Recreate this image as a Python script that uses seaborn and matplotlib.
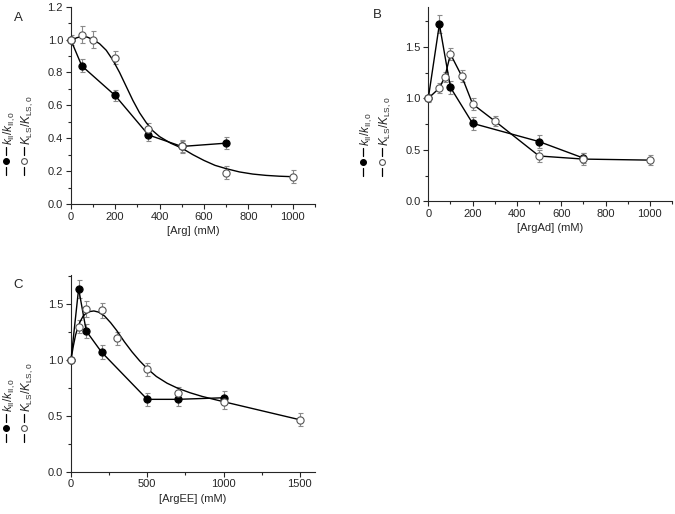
import numpy as np
import pandas as pd
import matplotlib
matplotlib.use("Agg")
import matplotlib.pyplot as plt
import seaborn as sns
from matplotlib.lines import Line2D
from matplotlib.ticker import MultipleLocator, FormatStrFormatter

# ---- Panel A: Arg ----
a_kii_x = [0, 50, 200, 350, 500, 700]
a_kii_y = [1.0, 0.84, 0.66, 0.42, 0.35, 0.37]
a_kii_err = [0.0, 0.04, 0.035, 0.035, 0.035, 0.035]
a_kls_x = [0, 50, 100, 200, 350, 500, 700, 1000]
a_kls_y = [1.0, 1.03, 1.0, 0.89, 0.455, 0.35, 0.19, 0.165]
a_kls_err = [0.03, 0.05, 0.05, 0.04, 0.04, 0.04, 0.04, 0.04]
# fitted curve
a_fit_x = [0, 25, 50, 75, 100, 130, 160, 190, 220, 250, 280, 310, 340, 370, 400, 450,
           500, 550, 600, 650, 700, 760, 820, 880, 940, 1000]
a_fit_y = [0.99, 1.01, 1.02, 1.015, 1.0, 0.975, 0.935, 0.875, 0.80, 0.715, 0.63, 0.555,
           0.495, 0.445, 0.41, 0.37, 0.34, 0.30, 0.265, 0.235, 0.215, 0.195, 0.182,
           0.174, 0.169, 0.166]

# ---- Panel B: ArgAd ----
b_kii_x = [0, 50, 100, 200, 500, 700]
b_kii_y = [1.0, 1.72, 1.106, 0.757, 0.58, 0.42]
b_kii_err = [0.0, 0.09, 0.06, 0.06, 0.06, 0.05]
b_kls_x = [0, 50, 75, 100, 150, 200, 300, 500, 700, 1000]
b_kls_y = [1.0, 1.10, 1.21, 1.43, 1.22, 0.945, 0.78, 0.44, 0.41, 0.40]
b_kls_err = [0.04, 0.05, 0.05, 0.06, 0.06, 0.06, 0.05, 0.06, 0.06, 0.05]

# ---- Panel C: ArgEE ----
c_kii_x = [0, 50, 100, 200, 500, 700, 1000]
c_kii_y = [1.0, 1.634, 1.256, 1.068, 0.646, 0.646, 0.66]
c_kii_err = [0.0, 0.08, 0.06, 0.06, 0.06, 0.06, 0.06]
c_kls_x = [0, 50, 100, 200, 300, 500, 700, 1000, 1500]
c_kls_y = [1.0, 1.295, 1.45, 1.44, 1.19, 0.914, 0.70, 0.62, 0.464]
c_kls_err = [0.0, 0.06, 0.07, 0.07, 0.06, 0.06, 0.06, 0.06, 0.06]
c_fit_x = [0, 15, 30, 45, 60, 80, 100, 125, 150, 180, 220, 260, 300, 350, 400, 450,
           500, 560, 630, 700, 780, 860, 940, 1000, 1500]
c_fit_y = [1.0, 1.12, 1.22, 1.29, 1.34, 1.39, 1.415, 1.43, 1.435, 1.425, 1.39, 1.33,
           1.26, 1.16, 1.07, 0.99, 0.92, 0.85, 0.79, 0.745, 0.705, 0.672, 0.645,
           0.625, 0.464]

sns.set_theme(style="ticks")
plt.rcParams['font.family'] = ['Liberation Sans', 'DejaVu Sans']
plt.rcParams['mathtext.fontset'] = 'custom'
plt.rcParams['mathtext.rm'] = 'Liberation Sans'
plt.rcParams['mathtext.it'] = 'Liberation Sans:italic'

fig = plt.figure(figsize=(6.75, 5.14), dpi=100)
W, H = 675, 514
MS = 5.2


def px_axes(l, t, r, b):
    return fig.add_axes([l / W, 1 - b / H, (r - l) / W, (b - t) / H])


def draw_panel(ax, kx, ky, ke, sx, sy, se, fx=None, fy=None):
    for xs, ys, es in ((kx, ky, ke), (sx, sy, se)):
        ax.errorbar(xs, ys, yerr=es, fmt='none', ecolor='#8a8a8a', elinewidth=0.8,
                    capsize=1.8, capthick=0.8, zorder=1)
    sns.lineplot(x=kx, y=ky, ax=ax, color='black', linewidth=1.0, marker='o',
                 markersize=MS, markerfacecolor='black', markeredgecolor='black',
                 clip_on=False, zorder=3)
    if fx is not None:
        sns.lineplot(x=fx, y=fy, ax=ax, color='black', linewidth=1.0, zorder=2)
        ax.plot(sx, sy, linestyle='none', marker='o', markersize=MS,
                markerfacecolor='white', markeredgecolor='#555555',
                markeredgewidth=0.8, clip_on=False, zorder=4)
    else:
        sns.lineplot(x=sx, y=sy, ax=ax, color='black', linewidth=1.0, marker='o',
                     markersize=MS, markerfacecolor='white',
                     markeredgecolor='#555555', markeredgewidth=0.8,
                     clip_on=False, zorder=4)
    sns.despine(ax=ax)
    for s in ('left', 'bottom'):
        ax.spines[s].set_linewidth(0.8)
    ax.tick_params(which='major', length=3.5, width=0.8, labelsize=8, pad=2)
    ax.tick_params(which='minor', length=2, width=0.8)
    ax.yaxis.set_major_formatter(FormatStrFormatter('%.1f'))
    ax.set_ylabel('')


def side_labels(x1, x2, ybot):
    # legend-style y labels: dash, marker, dash, then the ratio text
    for xc, face, edge, txt in ((x1, 'black', 'black', r'$k_{\rm II}/k_{\rm II,0}$'),
                                (x2, 'white', '#555555', r'$K_{\rm LS}/K_{\rm LS,0}$')):
        fx = xc / W
        for y0, y1 in ((ybot, ybot - 8), (ybot - 20, ybot - 28)):
            fig.add_artist(Line2D([fx, fx], [1 - y0 / H, 1 - y1 / H],
                                  color='black', linewidth=0.9))
        fig.add_artist(Line2D([fx], [1 - (ybot - 14) / H], marker='o',
                              markersize=4.2, markerfacecolor=face,
                              markeredgecolor=edge, markeredgewidth=0.8,
                              linestyle='none'))
        fig.text((xc + 3.5) / W, 1 - (ybot - 30) / H, txt, rotation=90,
                 ha='center', va='bottom', fontsize=8.5)


# Panel A
axA = px_axes(70.7, 6.7, 315, 204)
draw_panel(axA, a_kii_x, a_kii_y, a_kii_err, a_kls_x, a_kls_y, a_kls_err, a_fit_x, a_fit_y)
axA.set_xlim(0, 1100)
axA.set_ylim(0, 1.2)
axA.xaxis.set_major_locator(MultipleLocator(200))
axA.xaxis.set_minor_locator(MultipleLocator(100))
axA.yaxis.set_major_locator(MultipleLocator(0.2))
axA.yaxis.set_minor_locator(MultipleLocator(0.1))
axA.set_xlabel('[Arg] (mM)', fontsize=8, labelpad=3)
side_labels(6, 24, 175)
fig.text(18 / W, 1 - 18 / H, 'A', fontsize=9.5, ha='center', va='center')

# Panel B
axB = px_axes(428.3, 6.7, 672, 201.3)
draw_panel(axB, b_kii_x, b_kii_y, b_kii_err, b_kls_x, b_kls_y, b_kls_err)
axB.set_xlim(0, 1100)
axB.set_ylim(0, 1.89)
axB.xaxis.set_major_locator(MultipleLocator(200))
axB.xaxis.set_minor_locator(MultipleLocator(100))
axB.yaxis.set_major_locator(MultipleLocator(0.5))
axB.yaxis.set_minor_locator(MultipleLocator(0.25))
axB.set_xlabel('[ArgAd] (mM)', fontsize=8, labelpad=3)
side_labels(363, 382, 176)
fig.text(377 / W, 1 - 15 / H, 'B', fontsize=9.5, ha='center', va='center')

# Panel C
axC = px_axes(71, 275, 315, 471.7)
draw_panel(axC, c_kii_x, c_kii_y, c_kii_err, c_kls_x, c_kls_y, c_kls_err, c_fit_x, c_fit_y)
axC.set_xlim(0, 1600)
axC.set_ylim(0, 1.756)
axC.xaxis.set_major_locator(MultipleLocator(500))
axC.xaxis.set_minor_locator(MultipleLocator(250))
axC.yaxis.set_major_locator(MultipleLocator(0.5))
axC.yaxis.set_minor_locator(MultipleLocator(0.25))
axC.set_xlabel('[ArgEE] (mM)', fontsize=8, labelpad=3)
side_labels(6, 24, 442)
fig.text(18 / W, 1 - 285 / H, 'C', fontsize=9.5, ha='center', va='center')

fig.savefig('out.png', dpi=100)
